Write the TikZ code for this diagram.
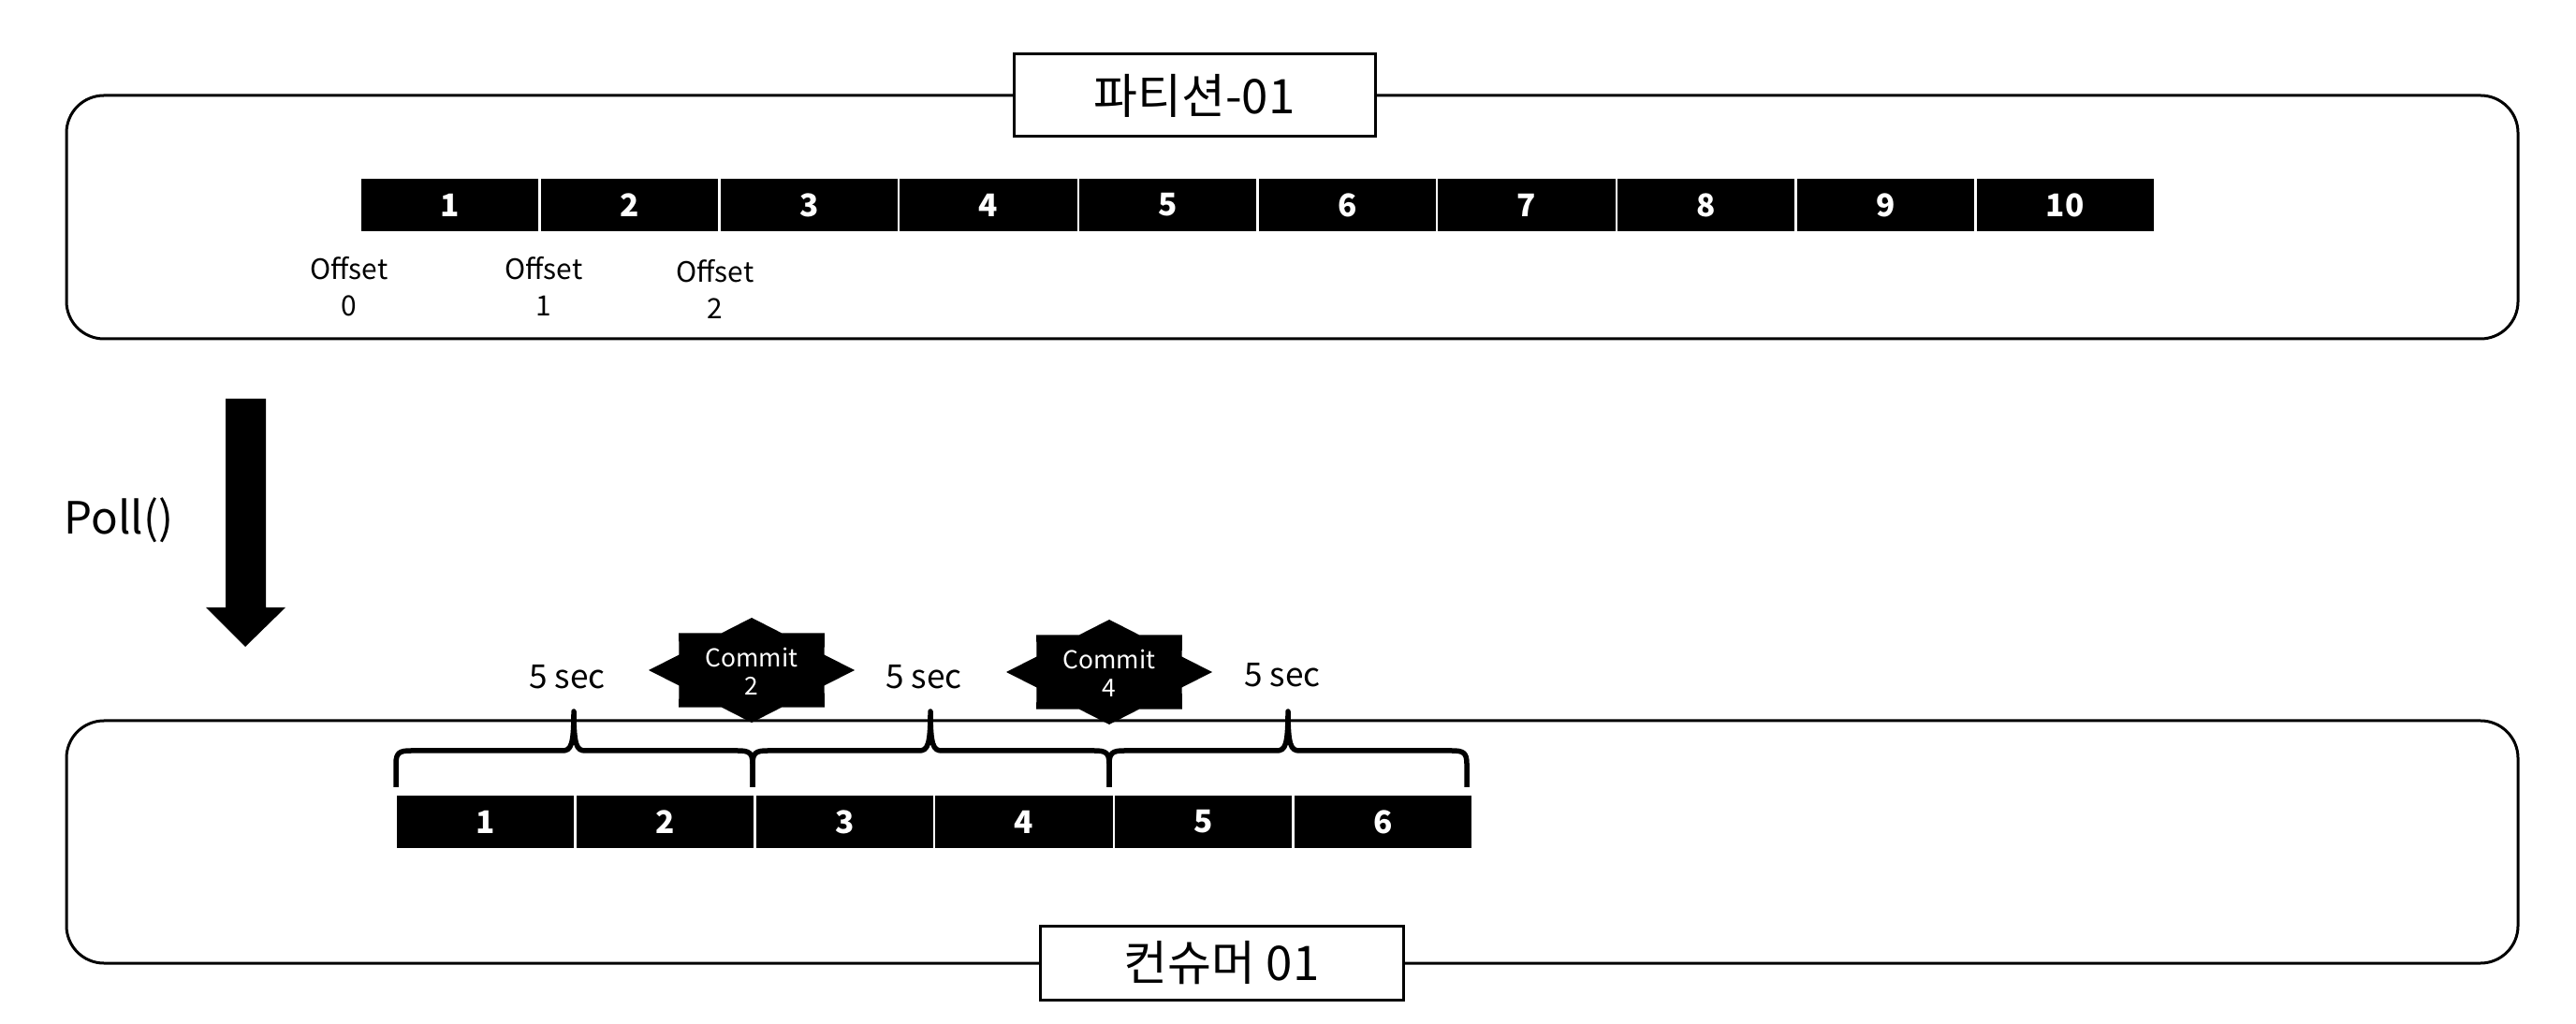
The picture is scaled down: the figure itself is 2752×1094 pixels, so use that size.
\documentclass[tikz,border=0pt]{standalone}
\usepackage{fontspec}
\setmainfont{Noto Sans CJK KR}
\newcommand\kbr[3]{\draw[brc] (#1,841) -- (#1,816) .. controls (#1,804) and ({#1+4},802) .. ({#1+16},802) -- ({#2-12},802) .. controls ({#2-3},802) and (#2,796) .. (#2,760) .. controls (#2,796) and ({#2+3},802) .. ({#2+12},802) -- ({#3-16},802) .. controls ({#3-4},802) and (#3,804) .. (#3,816) -- (#3,841);}
\newcommand\kstar[2]{\fill[black,shift={(#1,#2)}] (110,0) -- (77.7,16.4) -- (77.8,39.6) -- (32.2,39.6) -- (0,56) -- (-32.2,39.6) -- (-77.8,39.6) -- (-77.7,16.4) -- (-110,0) -- (-77.7,-16.4) -- (-77.8,-39.6) -- (-32.2,-39.6) -- (0,-56) -- (32.2,-39.6) -- (77.8,-39.6) -- (77.7,-16.4) -- cycle;}
\begin{document}
\begin{tikzpicture}[x=0.1mm,y=-0.1mm,
  frame/.style={draw=black, line width=0.3mm, rounded corners=4mm},
  lbl/.style={draw=black, fill=white, line width=0.3mm, inner sep=0pt, font=\fontsize{14.5}{17}\selectfont},
  cell/.style={fill=black, draw=white, line width=0.25mm, minimum width=19.17mm, minimum height=5.8mm, inner sep=0pt, text=white, font=\fontsize{9.5}{11}\selectfont\bfseries},
  offs/.style={align=center, font=\fontsize{8.5}{11}\selectfont, inner sep=0pt},
  secl/.style={font=\fontsize{10}{12}\selectfont, inner sep=0pt},
  commit/.style={align=center, text=white, font=\fontsize{7.5}{8.5}\selectfont, inner sep=0pt},
  brc/.style={line width=0.55mm, line join=round}]
\useasboundingbox (0,0) rectangle (2752,1094);
% partition frame
\draw[frame] (71,102) rectangle (2690,362);
\node[lbl, minimum width=38.6mm, minimum height=8.8mm] (title) at (1276,102) {파티션-01};
\foreach \i in {1,...,10} \node[cell] (p\i) at ({385+191.7*(\i-0.5)},219) {\i};
\node[offs] (o0) at (373,306) {Offset\\0};
\node[offs] (o1) at (581,306) {Offset\\1};
\node[offs] (o2) at (764,309) {Offset\\2};
% poll arrow
\fill[black] (241,426) -- (284,426) -- (284,649) -- (305,649) -- (262,691) -- (220,649) -- (241,649) -- cycle;
\node[font=\fontsize{13.5}{16}\selectfont, inner sep=0pt] (poll) at (127,556) {Poll()};
% consumer frame
\draw[frame] (71,770) rectangle (2690,1029);
\node[lbl, minimum width=38.8mm, minimum height=7.9mm] (cons) at (1305,1029) {컨슈머 01};
\foreach \i in {1,...,6} \node[cell] (q\i) at ({423+191.7*(\i-0.5)},878) {\i};
\kbr{423}{613}{804}
\kbr{804}{994}{1185}
\kbr{1185}{1376}{1567}
\node[secl] (s1) at (606,723) {5 sec};
\node[secl] (s2) at (987,723) {5 sec};
\node[secl] (s3) at (1370,721) {5 sec};
\kstar{803}{716}
\kstar{1185}{718}
\node[commit] (k1) at (803,717) {Commit\\2};
\node[commit] (k2) at (1185,719) {Commit\\4};
\end{tikzpicture}
\end{document}
